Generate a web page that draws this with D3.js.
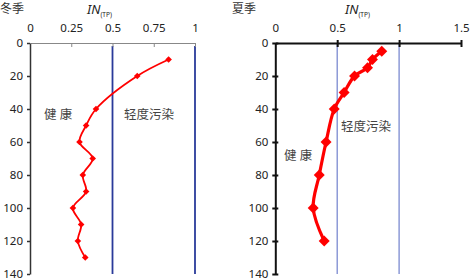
<!DOCTYPE html>
<html><head><meta charset="utf-8">
<script src="https://cdn.jsdelivr.net/npm/d3@7"></script>
<style>body{margin:0;background:#fff}svg{display:block}</style>
</head><body>
<svg id="c" width="472" height="280"></svg>
<script>
// Winter (冬季)
const winterDepth = [10, 20, 40, 50, 60, 70, 80, 90, 100, 110, 120, 130];
const winterIN    = [0.84, 0.65, 0.40, 0.34, 0.30, 0.38, 0.32, 0.34, 0.26, 0.31, 0.29, 0.335];
// Summer (夏季)
const summerDepth = [5, 10, 15, 20, 30, 40, 60, 80, 100, 120];
const summerIN    = [0.86, 0.785, 0.745, 0.64, 0.556, 0.476, 0.41, 0.355, 0.306, 0.395];
const winterXTicks = [0, 0.25, 0.5, 0.75, 1];
const summerXTicks = [0, 0.5, 1, 1.5];
const depthTicks = [0, 20, 40, 60, 80, 100, 120, 140];
const thresholds = [0.5, 1];
const labels = { winter: "冬季", summer: "夏季", healthy: "健 康", light: "轻度污染" };

const svg = d3.select("#c");
const font = "'Noto Sans', 'Noto Sans CJK SC', sans-serif";

function panel(cfg) {
  const x = d3.scaleLinear().domain([0, cfg.xmax]).range([cfg.x0, cfg.x1]);
  const y = d3.scaleLinear().domain([0, 140]).range([43, 274]);
  const g = svg.append("g");
  // threshold lines
  g.selectAll("line.th").data(thresholds).join("line")
    .attr("x1", d => x(d)).attr("x2", d => x(d))
    .attr("y1", cfg.thTop).attr("y2", 274)
    .attr("stroke", cfg.thColor).attr("stroke-width", cfg.thW);
  // x axis (top)
  const xa = g.append("g").attr("transform", "translate(0,43)")
    .call(d3.axisTop(x).tickValues(cfg.xticks).tickFormat(d => String(d)).tickSize(0).tickPadding(11));
  xa.select(".domain").attr("stroke", cfg.xAxisColor).attr("stroke-width", cfg.axW);
  xa.selectAll(".tick line").remove();
  xa.selectAll(".tick").filter(d => d > 0).append("line")
    .attr("y1", cfg.xtUp).attr("y2", 4).attr("stroke", cfg.xAxisColor).attr("stroke-width", cfg.axW);
  xa.selectAll("text").attr("font-family", font).attr("font-size", 11.5).attr("fill", "#222");
  // y axis
  const ya = g.append("g").attr("transform", `translate(${cfg.x0},0)`)
    .call(d3.axisLeft(y).tickValues(depthTicks).tickSize(0).tickPadding(7));
  ya.select(".domain").attr("stroke", cfg.yAxisColor).attr("stroke-width", cfg.ayW);
  ya.selectAll(".tick line").remove();
  ya.selectAll(".tick").append("line").attr("x1", -3).attr("x2", cfg.ytRight)
    .attr("stroke", cfg.yAxisColor).attr("stroke-width", cfg.ayW);
  ya.selectAll("text").attr("font-family", font).attr("font-size", 11.5).attr("fill", "#222");
  // title
  const t = g.append("text").attr("x", cfg.titleX).attr("y", 14)
    .attr("font-family", font).attr("font-size", 13).attr("fill", "#222");
  t.append("tspan").attr("font-style", "italic").text("IN");
  t.append("tspan").attr("font-size", 6.5).attr("dy", 3).text("(TP)");
  g.append("text").attr("x", cfg.seasonX).attr("y", 13).attr("font-family", font)
    .attr("font-size", 12).attr("fill", "#333").text(cfg.season);
  g.append("text").attr("x", cfg.healthyX).attr("y", cfg.healthyY).attr("font-family", font)
    .attr("font-size", 12.5).attr("fill", "#444").text(labels.healthy);
  g.append("text").attr("x", cfg.lightX).attr("y", cfg.lightY).attr("font-family", font)
    .attr("font-size", 12.5).attr("fill", "#444").text(labels.light);
  // data
  const pts = cfg.depth.map((d, i) => [cfg.vals[i], d]);
  g.append("path").datum(pts)
    .attr("d", d3.line().x(p => x(p[0])).y(p => y(p[1])).curve(d3.curveCatmullRom.alpha(0.5)))
    .attr("fill", "none").attr("stroke", "#ff0000").attr("stroke-width", cfg.lw);
  g.selectAll("path.m").data(pts).join("path")
    .attr("transform", p => `translate(${x(p[0])},${y(p[1])}) rotate(45)`)
    .attr("d", d3.symbol(d3.symbolSquare, cfg.msize))
    .attr("fill", "#ff0000");
}

panel({ xmax: 1, x0: 30, x1: 195, xticks: winterXTicks, depth: winterDepth, vals: winterIN,
  thTop: 46, thColor: "#2a3a9a", thW: 1.8, xAxisColor: "#888", yAxisColor: "#333", axW: 1, ayW: 1.5,
  xtUp: 0, ytRight: 0, titleX: 87, seasonX: 0, season: labels.winter,
  healthyX: 44, healthyY: 119, lightX: 124, lightY: 119, lw: 1.8, msize: 22 });

panel({ xmax: 1.5, x0: 275.3, x1: 461, xticks: summerXTicks, depth: summerDepth, vals: summerIN,
  thTop: 43, thColor: "#7b8ad0", thW: 1.3, xAxisColor: "#111", yAxisColor: "#111", axW: 2, ayW: 2,
  xtUp: -3, ytRight: 3, titleX: 345, seasonX: 232, season: labels.summer,
  healthyX: 284, healthyY: 160, lightX: 341, lightY: 131, lw: 3.2, msize: 60 });
</script>
</body></html>
